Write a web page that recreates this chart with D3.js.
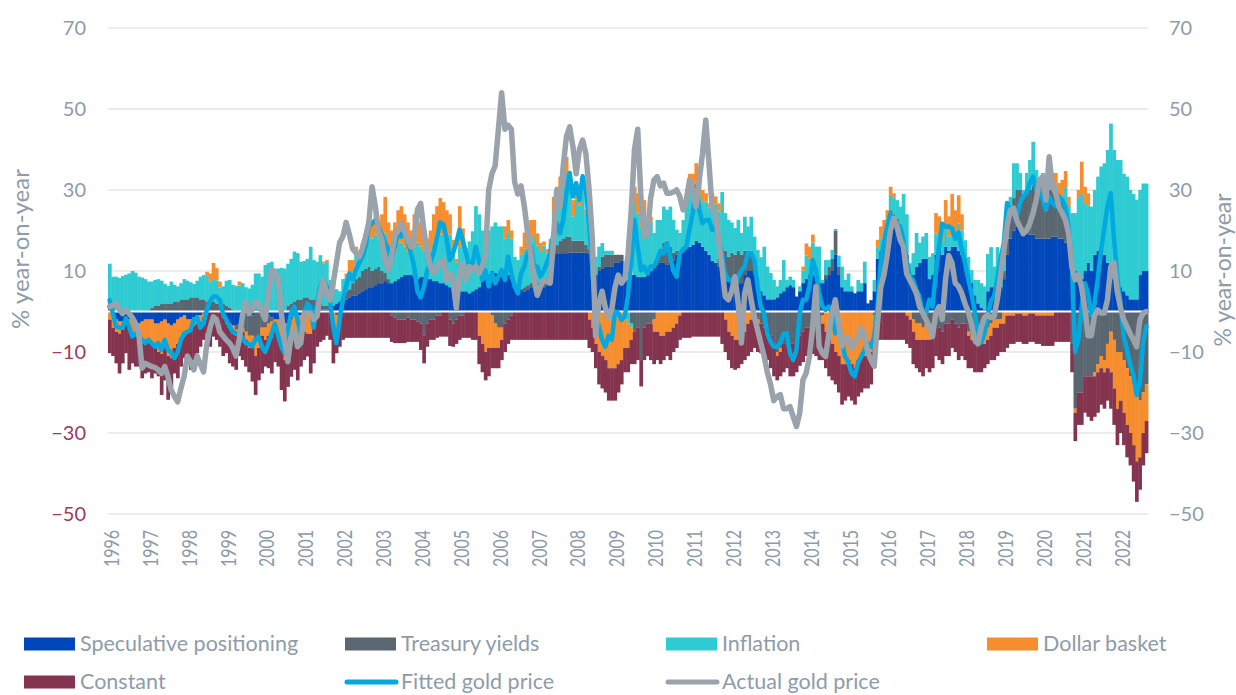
<!DOCTYPE html>
<html><head><meta charset="utf-8">
<script src="https://cdn.jsdelivr.net/npm/d3@7"></script>
<style>
body{margin:0;background:#fff;}
text{font-family:Lato,"Open Sans","Noto Sans",sans-serif;}
</style>
</head><body>
<svg id="chart" width="1236" height="695"></svg>
<script>
// Tick labels (one per January)
const years = ["1996","1997","1998","1999","2000","2001","2002","2003","2004","2005","2006","2007","2008","2009","2010","2011","2012","2013","2014","2015","2016","2017","2018","2019","2020","2021","2022"];

// Monthly contributions, % year-on-year (Jan 1996 .. Sep 2022)
const speculative = [
0,-1,-2,-2.5,-2.5,-2,-2,-2.5,-3,-3,-2.5,-2,
-2,-2,-3,-3,-2.5,-2,-3,-3.5,-3,-2,-1.5,-1,
-2,-2,-1.5,-1,-1,-0.5,0,0,0,0,0,-0.5,
-2,-3,-3.5,-3.5,-3,-1,-1,-1,-1,0.5,0.5,0.5,
-1,-1,-1.5,-2,-2,-2.5,-3,-3,-2,-1,-1,-1,
-1,-0.5,-0.5,0,0,0.5,0.5,0.5,1,1.5,2,2.5,
2.5,3,3.5,4,4,4.5,5,5.5,6,6,6.5,7,
7,7.5,7,7,7.5,8,8.5,9,9,9,8.5,8,
8.5,8.5,8,8,7.5,7.5,7,7,6.5,6,5.5,5,
5,5,5,4.5,5,5.5,6,8,9,9,10,9.5,
9,9,9.5,9,8,7,6,5.5,5,5.5,6,6.5,
6,6,6,6.5,7,14,14.4,14.4,14.4,14.4,14.5,14.5,
14.5,14.5,14.5,14.5,14.3,8,9,10,10.5,11,11,11,
12,12,12.5,7.8,7.8,9,9,8.5,8.5,8.5,9,10,
11,11.5,12,12,11.5,12,12.5,14,15,16,17,16,
16.5,17.5,17,16,15,14,12.5,12,11,11,10,7.5,
7.5,7,7,7,9,10,10,9,8,5,4,3,
3,3,3.5,4.5,5,6,6.5,6,3.7,5,7,8,
9,9,8.5,7,7,8,9,10,14,9,6,5,
5,5,4.5,5,5,7,2,2.8,5,13,15,17,
19,22,21,20,19,18,14,8,9,11,12,13,
13,8,9,14,15,14,16,15,16,16,15,14,
13,9,7,4,2,1,0.5,5,6,6,7,6,
8,14,18,20,21,21,20,20,19,19,18,18,
18,18,18,18.5,18.5,18,18,17,16,14,10,8,
8,10,12,10,14,15,16,14,12,10,8,6,
6,5,4,3,3,3,9,10,10];

const treasury = [
3,1,0,0,0,0,0,0,0,0,0,0,
0.5,1,1.5,1.5,2,2,2,2,2.5,2.5,3,3,
3,3.5,3.5,3.5,3,3,2.5,2.5,2.5,2,2,2,
1.5,1,0.5,-1,-2,-3,-4,-5,-5,-7,-6,-4,
-3,-2,-1,0,0,0,0,1.5,2,2.5,3,3,
3.5,3.5,3,3,2,1.5,1,1,0.5,0,-1,-1,
1,2,2,3,4,4,5,5,5,4,4,4,
3,2,1,-1,-1.5,-2,-2,-2,-1.5,-2,-2,-2.5,
-3,-6,-3,-2,-2,-1,-1,0,0,-2,-3,-2,
-1,-1,0,0,0,0,0,0,0,0,-1,-3,
-4,-4,-3,-2,-1,0,0,0,1,1,1,1,
1,1,1,1,1,1,2,3,3.5,4,4,3,
3,3,3,2,1,0,0,1,3,3,3,3,
2,2,1.5,0,0,-3,-5,-4,-12,-4,-3,-3,
-2,2,3,5,6,4,2,1,0,0,0,0,
0,0,0,0,0,0,0,0,2,4,5,6,
7,7,8,7,6,5,5,4,-2,-3,-4,-5,
-6,-8,-10,-9,-8,-7,-8,-8,-7,-6,-5,-4,
-4,-3.5,-3,-4,-1,1,2,3,6,2,0,0,
0,0,0,0,0,0,0,0,-1,0,0,0,
3,3,3,3,2,0,0,0,-2,-3,-3,-4,
-3,-3,-3,-3,-4,-5,-3,-3,-2,-3,-4,-3,
-3,-5,-6,-7,-7,-6,-5,-4,-3,-2,-2,-2,
2,4,6,8,9,9,8,10,11,12,13,13,
12,11,12,12,11,10,9,9,6,-8,-24,-20,
-20,-16,-16,-16,-15,-13,-11,-12,-8,-5,-7,-10,
-10,-12,-14,-16,-18,-20,-22,-20,-18];

const inflation = [
8.8,7.6,8.6,8.3,8.8,9.1,9.4,10,9.6,8.6,8.4,8,
6.9,6.4,6.3,6.5,5.6,4.8,4.3,5.4,4.1,3.7,4,5,
4.6,3.7,3.3,4.1,5.6,6,6.3,4.9,5.5,5.7,3.9,4.2,
6.1,6.8,6.1,6.3,6.4,7,6,5.7,6.6,8.9,8.9,8.1,
11.5,12,12.3,10.6,10.6,10.8,10.6,10.3,11,12.3,11.4,9.3,
9,9.5,13,9.7,10.3,11.9,10.3,10.7,6.3,5.5,3.5,2.5,
4.5,3.4,4.2,2.7,7,4.5,5,6.5,8,8,8.5,7,
8,9.8,8,8,7.5,9,8.5,7,6,5,7.5,9,
7.5,6.5,6,7,9.5,10.5,12,12,12.5,13,10.2,7,
11,12.5,9.6,12.8,14.8,20.5,18,12,9,11,11,12.5,
12,12,8.5,10.6,10,6.5,6.7,8.5,9.5,8.5,10.6,11.1,
9.3,7.9,9.3,6.9,8.9,9.3,10.4,11.9,13.4,15.8,11.5,6,
10.2,8.7,11.8,7.6,3.2,9.7,4.5,5,3.4,1,1,1,
0,0,0,-2,-3,-1,17.8,15.7,12.2,14,10.8,12.4,
8.4,9.1,7.6,8.9,7.6,9.9,8.1,5.2,4.4,6.6,10.4,15,
12.5,14.1,11.5,11,12.2,11.7,15.7,14.4,11.7,14.5,9.3,9.1,
7.5,6.6,7.6,5.4,8.4,6,8.4,5.5,7.2,8.4,12,8.1,
6.5,4.8,2.7,3.3,7.7,1.8,2.1,1.8,0,1.2,3.1,5.8,
4,8,7.5,9,0.8,3.7,1.7,2.2,0.4,2.8,5.1,2.8,
4.4,1.2,0,2.8,2,5.3,0,0,2.8,2.7,3,2.6,
1,3.8,4.2,4.5,4.9,11,10,3.9,5.4,8.4,5,5.5,
6.4,5.5,5.4,5.3,3.5,3.2,4.5,3.5,5,3,6.7,6,
4.6,4.5,3.2,3.8,5.8,6,5.7,9.2,9.9,5.1,8.9,8.2,
6,4.5,4.3,8.6,6.6,4.2,2,4.2,7.4,10.9,4,1.5,
4.2,3.5,4.7,3.7,1.7,0.7,1.5,4.7,4.3,10.3,14.3,20,
21,16.8,14.2,15.9,16,18.3,19.8,22.6,27.9,36.4,31.9,31.4,
31.4,29,29.3,27,26,24.6,21,21.6,21.6];

const dollar = [
-2,-3,-3,-3,-2,-1,-2,-3,-3,-4,-5,-5,
-5,-6,-6,-7,-8,-7,-8,-8,-6,-6,-5,-4,
-3,-3,-2,-2,-1.5,-1,1,2,4,3,1.5,-1,
-1,-1,-1,-1,1,-1,-2,-3,-3,-4,-3,-2,
-3,-3,-4,-3,-4,-7,-9,-7,-6,-5,-6,-4,
-4,-5,-5,-3,-1,0,0.5,0.5,0,-3,-4,-1,
0,1,3,3,1,2,2,3,3,4,5,4,
6,9,6,5,7,8,9,8,7,6,8,9,
6,5,4,5,7,8,9,8,6,5,2,1,
10,3,1,0,0,0,-6,-8,-10,-9,-8,-6,
-5,-3,3,3,2,0,0,2,4,5,5,4,
3,2,1,1,1,4,4,4,2,4,4,4,
4,3,4,1,-2,-4,-8,-10,-11,-12,-14,-14,
-14,-13,-12,-7,-6,-3,4,5,6,5,2,1,
-3,-5,-6,-6,-5,-5,-4,-3,-1,0,1,3,
5,5,4,3,2,1,1,2,2,0,-2,-5,
-6,-7,-7,-6,-5,-3,-2,-2,-1,0,0,0,
0,0,-1,-1,0,0,0,0,0,0,1,3,
3,2,0,0,-2,-5,-7,-8,-10,-11,-13,-13,
-12,-13,-14,-12,-11,-11,-10,-10,-6,2,3,3,
2,2,1,0,0,0,-1,-2,-3,-4,-4,-3,
-4,-4,-3,5,5,3,7,5,8,6,7,4,
0,-1,-1,-1,-1,-2,-3,-3,-3,-2,-2,-1,
-3,-1,-1,-1,-0.5,-0.5,-1,-1,-0.5,-0.5,-1,-1,
-1,-1,-1,-1,3,3,4,4,2,0,-1,2,
8,4,3,0,-1,-2,-3,-3,-6,-10,-12,-14,
-12,-13,-14,-14,-15,-17,-14,-10,-9];

const constant = [
-8.3,-7,-7.8,-9.8,-8.3,-7.3,-10.4,-7.3,-7.6,-6.6,-9,-8.3,
-8,-8.5,-6.3,-6,-10.1,-8,-10.8,-7.1,-6.3,-8.5,-7.1,-6.5,
-7.1,-9.4,-8.5,-7.3,-6.2,-5.5,-5.4,-8.7,-6.2,-7,-8.7,-9.5,
-7.3,-8.8,-9.1,-8.9,-6,-7,-6.6,-6,-8.3,-9.6,-8,-9.3,
-6.6,-8,-8.8,-7.5,-7.6,-9.9,-10.2,-8.6,-8.1,-8.4,-10,-8.6,
-7,-5.6,-9.8,-9.8,-7.7,-7.5,-7,-6,-7,-9.8,-5.3,-6.7,
-7,-6.5,-6.5,-6.5,-6.5,-6.5,-6.5,-6.5,-6.5,-6.5,-6.5,-6.5,
-6.5,-6.5,-6.5,-6.5,-6.3,-5.8,-5.8,-5.8,-6,-5.5,-5.5,-5,
-6.5,-6.8,-5.7,-5,-5,-5.5,-5.2,-6.2,-6.2,-6.5,-5.7,-6,
-6,-5.5,-6.5,-6.5,-7,-7,-7,-7,-7,-7,-5,-5,
-5,-5,-7,-6,-6,-7,-7,-7,-7,-7,-7,-7,
-7,-7,-7,-7,-7,-7,-7,-7,-7,-7,-7,-7,
-7,-7,-7,-7,-7,-6,-6,-8,-8,-8,-8,-8,
-8,-7,-6,-6,-6,-6,-8,-8,-6.5,-8,-8,-9,
-8,-7,-7,-6,-6,-7,-6,-6,-6,-6.5,-6.5,-6.5,
-6.2,-6.2,-6.2,-6.2,-6.2,-6.2,-6.2,-6.2,-6.2,-8,-8,-7,
-8,-7.4,-7,-7,-7,-8,-8,-7,-7,-7.3,-6,-7,
-8,-8,-6,-6,-7,-7,-8,-8,-8,-7.4,-7.5,-7,
-7,-7,-8,-8,-9,-9,-9,-9,-8,-9,-10,-9,
-9,-9,-9,-9,-9,-8,-9,-8,-7,-7,-7,-7,
-7,-7,-7,-7,-7,-7,-7,-7,-8,-7,-8,-9,
-7,-8,-8,-8,-8,-8,-8,-8,-7,-7,-8,-8,
-9,-8,-7,-7,-7,-7,-6,-6,-6,-8,-7,-7,
-7,-8,-7,-7,-7,-7,-7,-7,-7,-7,-7,-7,
-7.5,-7.5,-7.5,-7.5,-7.5,-7.5,-7.5,-7.5,-7.5,-7,-7,-8,
-8,-9,-10,-11,-10,-10,-9,-9,-8,-9,-9,-9,
-8,-8,-8,-8,-9,-10,-8,-8,-8];

const fitted = [
2.8,-0.5,-3.7,-4,-4.1,-1.7,-3.7,-6.2,-5.4,-6,-7,-7.8,
-7,-7.8,-8.7,-7.8,-9.5,-7,-9.5,-10,-11.5,-10,-7,-5.5,
-5,-4.6,-2,-1.5,-4,-3,0.4,2.5,3.7,3.7,2.9,-0.5,
-2,-3.7,-5,-5.5,-5.4,-6.5,-7.8,-8,-8.6,-7,-6.2,-8.6,
-10,-8,-5.4,-3,-6,-8.7,-10.4,-4.6,-0.4,1.2,-2,-5.4,
-1,2,1,-4,2,6,7.8,6.2,2.9,-3.7,-7.8,-2,
2.9,6.2,9.4,7.8,10.2,11.9,13.5,16,21,21.8,22.6,21,
19,17,15.5,13,16,19.4,18.5,20.2,17,14.4,11,5,
3.5,6,10,12,14.5,18,22,21.5,18,12.7,14.4,16.9,
20.2,17.7,14.4,11.1,11.9,16,12.7,7.8,10.2,6.2,9.4,7,
8.6,10.2,7.8,13.5,9.4,6.2,4.5,9.4,11.1,14.4,16,11.1,
11.1,8.6,10,12,14.4,19.3,21.8,19.3,22.6,29.2,34.2,28.4,
31.7,27.6,33.4,30,21.8,10.2,-0.4,-3.7,-7,-8.7,-6,-7,
0,-0.4,-2.1,-1.3,4,12,22.6,16,10.2,11.1,9.4,11.1,
11.1,12.7,15,14.4,16.9,13.6,10,8.6,14.4,15.2,16,20.2,
24.3,30.8,25.1,21.8,22.6,22.6,20.2,21,17.7,14.4,9.4,7.8,
7.8,6.2,8.6,10.2,11.1,14.4,14.4,12.7,6.2,1.2,-0.4,-5.4,
-7.5,-8.7,-8.7,-7.8,-5.5,-5.4,-10.3,-12,-9.5,-0.4,2.9,2.9,
6.2,12.7,10.2,4.5,1.2,0.4,1.2,-0.4,-5.4,-2.9,-7,-11.1,
-12.5,-15.2,-16,-12.7,-11.1,-9.5,-7.8,-8.7,-6.2,1,12,17,
21,24.2,22.6,21.5,21,17.7,12.7,8.6,7.8,5.4,3.7,-0.4,
-0.4,2.9,1.2,9.4,16,21.7,20.9,21,20.5,18,19.5,15.4,
12,8,4.5,0,-5,-7.7,-5.5,-1,2.5,3.8,8,13,
17,26.8,25.1,24,23.5,26.8,28.4,29.2,31.7,33.3,30,31.7,
27.6,25.1,28.4,26.8,25.9,28.4,27.6,25.9,21,12,-10,-7,
1,7,4.5,-1,2,8,15,20.5,26,29.2,18,8.7,
2,-6,-9.3,-13,-15.7,-20.6,-17.4,-7.7,-3.6];

const actual = [
1.2,1.5,2,0.5,-0.5,0.4,-0.5,-1.5,-3,-5.4,-14,-12.8,
-13.2,-13.6,-13.8,-14.4,-15.3,-13.6,-16,-19.4,-21,-22.3,-19,-16,
-11,-12.5,-14.4,-11,-13,-14.9,-8,-4,-1.3,-2,-5,-6,
-7,-7.8,-9,-11,-7,-1,2.4,-0.5,0.5,2.4,2,0,
-2,4,10.4,9.5,8.6,-0.4,-7,-12.4,-6.2,-4.6,-8.7,-7.8,
-0.4,-0.4,-0.4,-2,-1.2,4.5,7.8,4.5,2.8,7,12,17,
18.5,22,19,15.5,14.5,13.5,15.5,18.5,22,30.8,26,20,
17.7,12.7,10.2,13.5,18.5,20,21.8,20,17.7,16,17.7,25.1,
26.7,20,15.2,11.1,9.4,11.1,12,12.7,7.8,9.4,7.8,0.8,
9.4,11.8,7.8,11.1,10.2,11.1,9.4,11.1,14,30,34,36,
45,54,45,46,45,32,29,31,26,19.5,14,8,
4,6.2,7.8,7.5,7,17.7,30,26,35.8,43.2,45.6,40.7,
34,40,42.3,39,30,18,-6,2,5,1,-1.5,0.5,
6,9,7,8,14,25,40,45,28,18.5,19,28,
32.5,33.3,31,31.7,29.2,29.2,29.5,30,28.4,25.1,27.6,32.5,
30,25.9,32.5,39,47.3,36.6,25.1,24.3,17.7,11.1,3.7,2.9,
5,8.6,2,-7.8,4.5,7.8,2.9,-1.3,-4.6,-7.8,-11,-15,
-18,-22,-21,-20.5,-24,-24,-23.5,-26,-28.4,-25.1,-16.9,-15.2,
-11.1,-3.7,6.2,-8.6,-10.3,-11.1,-5.4,-0.4,2.9,-2.9,-8.6,-6.5,
-6.5,-9,-8,-6.5,-4,-6,-10,-12,-13.5,-3,6,9,
14,20,23,21,17.7,16,9.4,7.8,6.2,4.5,1.2,-0.4,
-2,-3.7,-6.2,-0.4,1.2,-2,7.8,13.8,12,7,6.2,4.5,
2,0,-3,-7,-8,-4,-1.5,-0.8,-1.5,-1.2,3,9,
15,21,25,25.5,22.5,20.9,19.2,20,21.7,24.2,27.5,32.4,
33.3,27.5,38.2,30.8,29.2,25.9,24.3,22.6,19.3,11.1,7.8,9,
6,1,-6,-6,-1,0.4,-0.4,-0.4,3,11,12,5,
1,-2,-3.7,-5.5,-7,-8.7,-2.1,-0.4,0];

const yTickValues = [-50,-30,-10,10,30,50,70];

// ---------------- drawing ----------------
const n = speculative.length;
const categories = d3.range(n);
const svg = d3.select("#chart");
const plot = {left:108, right:1148, top:28, bottom:514};
const greyText = "#8d9ca8", maroonText = "#9c3a62";

const x = d3.scaleBand().domain(categories).range([plot.left, plot.right]).padding(0);
const y = d3.scaleLinear().domain([-50,70]).range([plot.bottom, plot.top]);

const seriesDefs = [
  {key:"spec", name:"Speculative positioning", color:"#0047bb", data:speculative},
  {key:"treas", name:"Treasury yields", color:"#5b6770", data:treasury},
  {key:"infl", name:"Inflation", color:"#2ecbd2", data:inflation},
  {key:"dollar", name:"Dollar basket", color:"#f68d2e", data:dollar},
  {key:"const", name:"Constant", color:"#84344e", data:constant}
];
const rows = categories.map(i => {
  const r = {i};
  seriesDefs.forEach(s => r[s.key] = s.data[i] || 0);
  return r;
});
const stacked = d3.stack().keys(seriesDefs.map(s=>s.key)).offset(d3.stackOffsetDiverging)(rows);

// gridlines
svg.append("g").selectAll("line").data(yTickValues).join("line")
  .attr("x1", plot.left).attr("x2", plot.right)
  .attr("y1", d=>y(d)).attr("y2", d=>y(d))
  .attr("stroke", "#d9d9d9").attr("stroke-width", 1.2);

// bars
const bw = x.bandwidth();
svg.append("g").selectAll("g").data(stacked).join("g")
  .attr("fill", (d,k)=>seriesDefs[k].color)
  .selectAll("rect").data(d=>d).join("rect")
  .attr("x", d=>x(d.data.i))
  .attr("width", bw+0.45)
  .attr("y", d=>y(Math.max(d[0],d[1])))
  .attr("height", d=>Math.abs(y(d[0])-y(d[1])));

// zero line
svg.append("line").attr("x1", plot.left).attr("x2", plot.right)
  .attr("y1", y(0)).attr("y2", y(0)).attr("stroke", "#ffffff").attr("stroke-width", 2);

// lines
const line = d3.line().x((d,i)=>x(i)+bw/2).y(d=>y(d)).curve(d3.curveLinear);
svg.append("path").datum(fitted).attr("d", line)
  .attr("fill","none").attr("stroke","#00a9e0").attr("stroke-width",4.5)
  .attr("stroke-linejoin","round").attr("stroke-linecap","round");
svg.append("path").datum(actual).attr("d", line)
  .attr("fill","none").attr("stroke","#9aa3ab").attr("stroke-width",5.5)
  .attr("stroke-linejoin","round").attr("stroke-linecap","round");

// left axis
const gl = svg.append("g").attr("transform", `translate(${plot.left},0)`)
  .call(d3.axisLeft(y).tickValues(yTickValues).tickSize(0).tickPadding(22));
gl.select(".domain").remove();
gl.selectAll("text").style("font-size","20px").attr("fill", d => d < 0 ? maroonText : greyText);

// right axis
const gr = svg.append("g").attr("transform", `translate(${plot.right},0)`)
  .call(d3.axisRight(y).tickValues(yTickValues).tickSize(0).tickPadding(21));
gr.select(".domain").remove();
gr.selectAll("text").style("font-size","20px").attr("fill", greyText);

// x axis (rotated, tall narrow digits)
const gx = svg.append("g").attr("transform", `translate(0,${plot.bottom})`)
  .call(d3.axisBottom(x).tickValues(categories.filter(i=>i%12===0)).tickFormat(i=>years[i/12]).tickSize(0));
gx.select(".domain").remove();
gx.selectAll(".tick").attr("transform", d => `translate(${x(d)+bw/2+1.5},0)`);
gx.selectAll("text")
  .attr("transform","rotate(-90) scale(1,1.35)").attr("x",-53).attr("y",0).attr("dy","0.36em")
  .style("text-anchor","start").style("font-size","16px")
  .attr("fill", greyText);

// axis titles
svg.append("text").attr("transform","translate(21,249) rotate(-90)")
  .attr("text-anchor","middle").attr("dy","0.35em").style("font-size","24px")
  .attr("fill", greyText).text("% year-on-year");
svg.append("text").attr("transform","translate(1223,270) rotate(-90)")
  .attr("text-anchor","middle").attr("dy","0.35em").style("font-size","23px")
  .attr("fill", greyText).text("% year-on-year");

// legend
const legendItems = [
  {name:"Speculative positioning", color:"#0047bb", type:"rect", x:24, y:644},
  {name:"Treasury yields", color:"#5b6770", type:"rect", x:345, y:644},
  {name:"Inflation", color:"#2ecbd2", type:"rect", x:666, y:644},
  {name:"Dollar basket", color:"#f68d2e", type:"rect", x:987, y:644},
  {name:"Constant", color:"#84344e", type:"rect", x:24, y:682},
  {name:"Fitted gold price", color:"#00a9e0", type:"line", x:345, y:682},
  {name:"Actual gold price", color:"#9aa3ab", type:"line", x:666, y:682}
];
const lg = svg.append("g");
legendItems.forEach(it => {
  if (it.type === "rect") {
    lg.append("rect").attr("x", it.x).attr("y", it.y-6.5).attr("width", 51).attr("height", 13).attr("fill", it.color);
  } else {
    lg.append("line").attr("x1", it.x+2).attr("x2", it.x+51).attr("y1", it.y).attr("y2", it.y)
      .attr("stroke", it.color).attr("stroke-width", 5).attr("stroke-linecap","round");
  }
  lg.append("text").attr("x", it.x+56).attr("y", it.y).attr("dy","0.33em")
    .style("font-size","21.5px").attr("fill", greyText).text(it.name);
});
</script>
</body></html>
